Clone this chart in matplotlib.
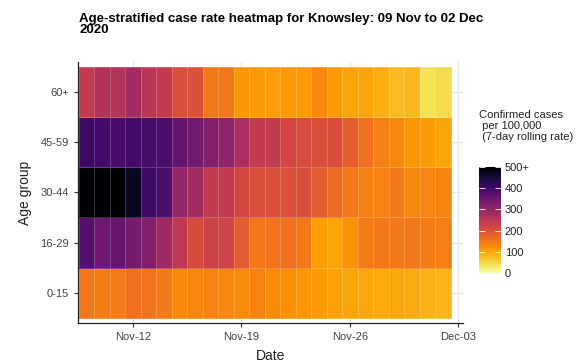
import numpy as np
import pandas as pd
import matplotlib
matplotlib.use("Agg")
import matplotlib.pyplot as plt
import matplotlib.dates as mdates

plt.rcParams['font.family'] = ['Liberation Sans', 'DejaVu Sans']

# data: 7-day rolling case rate per 100,000, by age group, 09 Nov to 02 Dec 2020
dates = pd.date_range("2020-11-09", "2020-12-02", freq="D")
age_groups = ["0-15", "16-29", "30-44", "45-59", "60+"]

rate_0_15 = [150, 143, 145, 160, 155, 147, 130, 133, 137, 132, 128, 138,
             127, 122, 117, 110, 104, 100, 97, 95, 97, 94, 88, 85]
rate_16_29 = [375, 345, 355, 335, 320, 285, 245, 210, 225, 222, 185, 152,
              155, 160, 150, 108, 100, 120, 145, 150, 147, 150, 145, 142]
rate_30_44 = [560, 550, 520, 470, 405, 385, 300, 280, 240, 240, 218, 205,
              205, 200, 205, 185, 165, 150, 140, 137, 148, 130, 133, 135]
rate_45_59 = [405, 395, 390, 398, 393, 388, 360, 340, 320, 305, 270, 240,
              240, 215, 210, 205, 207, 180, 160, 140, 132, 115, 110, 100]
rate_60 = [240, 260, 258, 280, 250, 240, 205, 200, 150, 150, 115, 110,
           108, 112, 110, 130, 110, 100, 100, 90, 78, 82, 40, 45]

rates = np.array([rate_0_15, rate_16_29, rate_30_44, rate_45_59, rate_60])

fig = plt.figure(figsize=(5.86, 3.62), dpi=100)
ax = fig.add_axes([0.133, 0.108, 0.657, 0.721])

x_edges = mdates.date2num(dates) - 0.5
x_edges = np.append(x_edges, x_edges[-1] + 1)
y_edges = np.arange(len(age_groups) + 1) - 0.5

mesh = ax.pcolormesh(x_edges, y_edges, rates, cmap="inferno_r", vmin=0, vmax=500,
                     edgecolors=(1, 1, 1, 0.2), linewidth=0.7, zorder=2)

ax.set_xlim(x_edges[0] - 0.05, x_edges[-1] + 0.8)
ax.set_ylim(-0.6, len(age_groups) - 0.4)

ax.set_yticks(range(len(age_groups)))
ax.set_yticklabels(age_groups)
ax.xaxis.set_major_locator(mdates.DayLocator(bymonthday=[12, 19, 26, 3]))
ax.xaxis.set_major_formatter(mdates.DateFormatter("%b-%d"))

ax.grid(True, color="#e8e8e8", linewidth=1.0, zorder=0)
ax.set_axisbelow(True)
for side in ["top", "right"]:
    ax.spines[side].set_visible(False)
for side in ["left", "bottom"]:
    ax.spines[side].set_color("#222222")
    ax.spines[side].set_linewidth(0.9)
ax.tick_params(axis="both", labelsize=8, colors="#333333", length=3, width=0.8)
ax.tick_params(axis="both", labelcolor="#444444")

ax.set_xlabel("Date", fontsize=10, labelpad=5, color="#222222")
ax.set_ylabel("Age group", fontsize=10, labelpad=6, color="#222222")

fig.text(0.135, 0.965, "Age-stratified case rate heatmap for Knowsley: 09 Nov to 02 Dec\n2020",
         fontsize=9.5, fontweight="bold", ha="left", va="top", linespacing=0.9)

# colour bar
cax = fig.add_axes([0.817, 0.246, 0.0375, 0.293])
cb = fig.colorbar(mesh, cax=cax)
cb.outline.set_visible(False)
cb.set_ticks([0, 100, 200, 300, 400, 500])
cb.set_ticklabels(["0", "100", "200", "300", "400", "500+"])
cax.tick_params(direction="in", left=True, right=True, labelleft=False, labelright=True,
                color="white", length=4, width=0.6, labelsize=8, labelcolor="#222222", pad=3)
fig.text(0.817, 0.695, "Confirmed cases\n per 100,000\n (7-day rolling rate)",
         fontsize=8, ha="left", va="top", color="#222222", linespacing=1.1)

fig.savefig("out.png", dpi=100)
